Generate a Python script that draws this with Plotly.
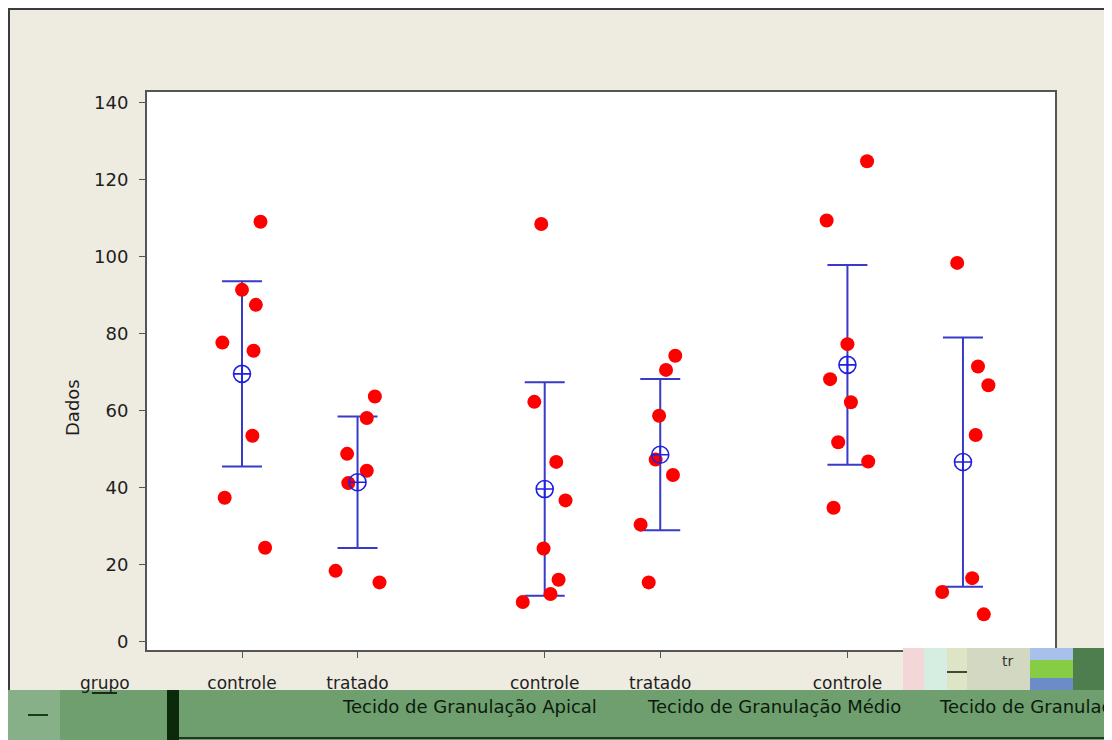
import numpy as np
import plotly.graph_objects as go

# ---------------- data ----------------
tissues = ["Tecido de Granulação Apical", "Tecido de Granulação Médio", "Tecido de Granulação"]
groups = ["controle", "tratado"]

ctrl_apical = [109.1, 91.4, 87.5, 77.7, 75.6, 53.5, 37.4, 24.4]
trat_apical = [63.7, 58.1, 48.8, 44.4, 41.2, 18.4, 15.4]
ctrl_medio = [108.5, 62.3, 46.7, 36.7, 24.2, 16.1, 12.4, 10.3]
trat_medio = [74.3, 70.6, 58.7, 47.3, 43.3, 30.4, 15.4]
ctrl_third = [124.8, 109.4, 77.3, 68.2, 62.2, 51.8, 46.8, 34.8]
trat_third = [98.4, 71.5, 66.6, 53.7, 16.5, 12.9, 7.1]

# horizontal jitter of the individual values (as seen in the picture)
jit_ctrl_apical = [0.16, 0.00, 0.12, -0.17, 0.10, 0.09, -0.15, 0.20]
jit_trat_apical = [0.15, 0.08, -0.09, 0.08, -0.08, -0.19, 0.19]
jit_ctrl_medio = [-0.03, -0.09, 0.10, 0.18, -0.01, 0.12, 0.05, -0.19]
jit_trat_medio = [0.13, 0.05, -0.01, -0.04, 0.11, -0.17, -0.10]
jit_ctrl_third = [0.17, -0.18, 0.00, -0.15, 0.03, -0.08, 0.18, -0.12]
jit_trat_third = [-0.05, 0.13, 0.22, 0.11, 0.08, -0.18, 0.18]

y_ticks = [0, 20, 40, 60, 80, 100, 120, 140]

series = [
    (0, 0, ctrl_apical, jit_ctrl_apical),
    (0, 1, trat_apical, jit_trat_apical),
    (1, 0, ctrl_medio, jit_ctrl_medio),
    (1, 1, trat_medio, jit_trat_medio),
    (2, 0, ctrl_third, jit_ctrl_third),
    (2, 1, trat_third, jit_trat_third),
]

# ---------------- layout helpers ----------------
W, H = 1112, 740
OFF = 8                                   # page body margin
L, R, T, B = 147, 1055, 92, 650          # plot area in page pixels
GROUP_GAP = 2.62
T_CRIT = {5: 2.5706, 6: 2.4469, 7: 2.3646, 8: 2.3060}


def px(xp):
    return (xp - L) / (R - L)


def py(yp):
    return (B - yp) / (B - T)


def pos(g, s):
    return g * GROUP_GAP + s


pts_x, pts_y = [], []
mean_x, mean_y, ci_up, ci_dn = [], [], [], []
for g, s, vals, jit in series:
    v = np.array(vals, dtype=float)
    p = pos(g, s)
    pts_x += [p + j for j in jit]
    pts_y += list(v)
    m = v.mean()
    se = v.std(ddof=1) / np.sqrt(len(v))
    h = T_CRIT[len(v) - 1] * se
    mean_x.append(p)
    mean_y.append(m)
    ci_up.append(h)
    ci_dn.append(h)

fig = go.Figure()

# 95% CI bars
fig.add_trace(go.Scatter(
    x=mean_x, y=mean_y, mode="markers",
    marker=dict(size=2, opacity=0),
    error_y=dict(type="data", symmetric=False, array=ci_up, arrayminus=ci_dn,
                 color="#3A3AC8", thickness=2, width=20),
    hoverinfo="skip", showlegend=False))

# individual values
fig.add_trace(go.Scatter(
    x=pts_x, y=pts_y, mode="markers",
    marker=dict(size=14, color="#FF0000", line=dict(width=0)),
    showlegend=False))

# means
fig.add_trace(go.Scatter(
    x=mean_x, y=mean_y, mode="markers",
    marker=dict(symbol="circle-cross-open", size=17, color="#2020E0",
                line=dict(width=1.6)),
    showlegend=False))

tick_x = [pos(g, s) for g, s, _, _ in series][:5]
tick_t = [groups[s] for _, s, _, _ in series][:5]

xmin = -(242 - L) / 115.54
xmax = (R - 242) / 115.54

font = "DejaVu Sans"
fig.update_layout(
    width=W, height=H, autosize=False,
    margin=dict(l=L - OFF, r=W - (R - OFF), t=T - OFF, b=H - (B - OFF)),
    paper_bgcolor="white", plot_bgcolor="white",
    font=dict(family=font, size=18, color="#222222"),
    xaxis=dict(range=[xmin, xmax], tickvals=tick_x, ticktext=tick_t,
               ticks="outside", ticklen=6, tickcolor="#555555",
               showgrid=False, zeroline=False, showline=True, mirror=True,
               linecolor="#555555", linewidth=2, ticklabelstandoff=11,
               tickfont=dict(size=17, color="#1E1E1E")),
    yaxis=dict(range=[-2.16, 142.8], tickvals=y_ticks,
               ticks="outside", ticklen=6, tickcolor="#555555",
               showgrid=False, zeroline=False, showline=True, mirror=True,
               linecolor="#555555", linewidth=2, ticklabelstandoff=7,
               tickfont=dict(size=18, color="#1E1E1E")),
)

shapes = []
# beige window background with dark frame, white plot area on top of it
shapes.append(dict(type="rect", xref="paper", yref="paper", layer="below",
                   x0=px(7), x1=px(1107), y0=py(690), y1=py(8),
                   fillcolor="#EEEBE1", line=dict(width=0)))
shapes.append(dict(type="rect", xref="paper", yref="paper", layer="below",
                   x0=0, x1=1, y0=0, y1=1,
                   fillcolor="white", line=dict(width=0)))
for (xa, ya, xb, yb) in [(7, 9, 1107, 9), (9, 8, 9, 690), (1107, 8, 1107, 648)]:
    shapes.append(dict(type="line", xref="paper", yref="paper", layer="above",
                       x0=px(xa), y0=py(ya), x1=px(xb), y1=py(yb),
                       line=dict(color="#3C3C3C", width=2)))
# green task band at the bottom
shapes.append(dict(type="rect", xref="paper", yref="paper", layer="above",
                   x0=px(7), x1=px(1120), y0=py(750), y1=py(690),
                   fillcolor="#6F9E6F", line=dict(width=0)))
shapes.append(dict(type="rect", xref="paper", yref="paper", layer="above",
                   x0=px(7), x1=px(60), y0=py(750), y1=py(690),
                   fillcolor="#88B088", line=dict(width=0)))
shapes.append(dict(type="rect", xref="paper", yref="paper", layer="above",
                   x0=px(167), x1=px(179), y0=py(750), y1=py(690),
                   fillcolor="#0A2A0A", line=dict(width=0)))
shapes.append(dict(type="line", xref="paper", yref="paper", layer="above",
                   x0=px(179), x1=px(1120), y0=py(738), y1=py(738),
                   line=dict(color="#1E3A1E", width=2)))
shapes.append(dict(type="line", xref="paper", yref="paper", layer="above",
                   x0=px(92), x1=px(117), y0=py(693), y1=py(693),
                   line=dict(color="#1A2A1A", width=2)))
shapes.append(dict(type="line", xref="paper", yref="paper", layer="above",
                   x0=px(28), x1=px(48), y0=py(715), y1=py(715),
                   line=dict(color="#1A3A1A", width=2)))
# screenshot debris at the lower right
for (xa, xb, col) in [(903, 924, "#F2D6D8"), (924, 947, "#D6EEE2"),
                      (947, 967, "#DDE5C6"), (967, 1030, "#D3D8C2"),
                      (1073, 1120, "#4E7E4E")]:
    shapes.append(dict(type="rect", xref="paper", yref="paper", layer="above",
                       x0=px(xa), x1=px(xb), y0=py(690), y1=py(648),
                       fillcolor=col, line=dict(width=0)))
for (ya, yb, col) in [(648, 660, "#A8C0EC"), (660, 678, "#86CC44"), (678, 690, "#6C8CC8")]:
    shapes.append(dict(type="rect", xref="paper", yref="paper", layer="above",
                       x0=px(1030), x1=px(1073), y0=py(yb), y1=py(ya),
                       fillcolor=col, line=dict(width=0)))
shapes.append(dict(type="line", xref="paper", yref="paper", layer="above",
                   x0=px(947), x1=px(967), y0=py(672), y1=py(672),
                   line=dict(color="#3A4A3A", width=2)))
fig.update_layout(shapes=shapes)

ann = []
ann.append(dict(text="Dados", xref="paper", yref="paper", x=px(72), y=py(408),
                textangle=-90, showarrow=False, font=dict(size=18, color="#1E1E1E"),
                xanchor="center", yanchor="middle"))
ann.append(dict(text="grupo", xref="paper", yref="paper", x=px(105), y=py(683),
                showarrow=False, font=dict(size=17, color="#1E1E1E"),
                xanchor="center", yanchor="middle"))
ann.append(dict(text="tr", xref="paper", yref="paper", x=px(1000), y=py(661),
                showarrow=False, font=dict(size=14, color="#333333"),
                xanchor="left", yanchor="middle"))
for xl, t in zip([340, 645, 937], tissues):
    ann.append(dict(text=t, xref="paper", yref="paper", x=px(xl), y=py(706),
                    showarrow=False, font=dict(size=18, color="#0B1B0B"),
                    xanchor="left", yanchor="middle"))
fig.update_layout(annotations=ann)

fig.write_html("out.html")
